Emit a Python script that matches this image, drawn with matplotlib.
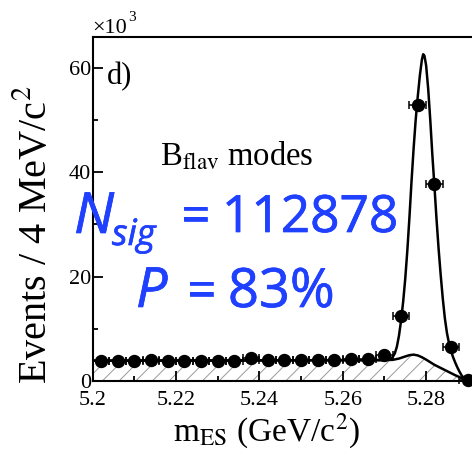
import matplotlib
matplotlib.use("Agg")
import matplotlib.pyplot as plt
import matplotlib.patheffects as pe
from matplotlib.ticker import MultipleLocator

# ---- data (events in units of 10^3) ----
pts_x = [5.202, 5.206, 5.210, 5.214, 5.218, 5.222, 5.226, 5.230, 5.234, 5.238, 5.242,
         5.246, 5.250, 5.254, 5.258, 5.262, 5.266, 5.270, 5.274, 5.278, 5.282, 5.286, 5.290]
pts_y = [3.85, 3.85, 3.85, 4.0, 3.75, 3.9, 3.9, 3.9, 3.9, 4.4, 3.95,
         4.1, 4.1, 4.1, 4.1, 4.25, 4.25, 5.0, 12.5, 52.9, 37.7, 6.6, 0.2]
bin_half = 0.002

tot_x = [5.200, 5.240, 5.268, 5.2700, 5.2710, 5.2715, 5.2720, 5.2725, 5.2730, 5.2735,
         5.2740, 5.2745, 5.2750, 5.2755, 5.2760, 5.2765, 5.2770, 5.2775, 5.2780, 5.2785,
         5.2790, 5.2793, 5.2796, 5.2800, 5.2805, 5.2810, 5.2815, 5.2820, 5.2825, 5.2830,
         5.2835, 5.2840, 5.2845, 5.2850, 5.2855, 5.2860, 5.2865, 5.2870, 5.2875, 5.2880,
         5.2885, 5.2890, 5.2895, 5.2900]
tot_y = [3.9, 3.95, 4.0, 4.0, 4.1, 4.3, 4.6, 5.3, 6.6, 8.7,
         11.6, 15.2, 19.6, 25.0, 31.3, 38.2, 44.5, 50.0, 54.5, 58.5,
         61.6, 62.6, 62.3, 60.5, 56.0, 50.0, 43.3, 37.3, 31.0, 25.3,
         20.3, 15.8, 12.0, 9.2, 7.2, 5.7, 4.5, 3.5, 2.6, 1.8,
         1.1, 0.6, 0.3, 0.1]

bg_x = [5.200, 5.220, 5.240, 5.260, 5.268, 5.2720, 5.2735, 5.2750, 5.2760, 5.2770,
        5.2780, 5.2790, 5.2800, 5.2810, 5.2820, 5.2830, 5.2840, 5.2850, 5.2860, 5.2870,
        5.2880, 5.2890, 5.2900]
bg_y = [3.9, 3.95, 3.95, 4.0, 4.0, 4.05, 4.3, 4.7, 4.95, 5.05,
        4.9, 4.55, 4.1, 3.6, 3.1, 2.7, 2.3, 1.9, 1.5, 1.1,
        0.75, 0.35, 0.05]

x_major = [5.20, 5.22, 5.24, 5.26, 5.28]
x_major_labels = ["5.2", "5.22", "5.24", "5.26", "5.28"]
y_major = [0, 20, 40, 60]
y_major_labels = ["0", "20", "40", "60"]

# ---- style ----
plt.rcParams['font.family'] = ['Liberation Serif', 'DejaVu Serif']
plt.rcParams['mathtext.fontset'] = 'stix'
plt.rcParams['hatch.linewidth'] = 0.7
plt.rcParams['hatch.color'] = '#9a9a9a'

W, H = 472, 451
fig = plt.figure(figsize=(W / 100, H / 100), dpi=100)

def fx(px):
    return px / W

def fy(py):
    return 1 - py / H

ax = fig.add_axes([fx(92.5), fy(381), 1 - fx(92.5), fy(37.3) - fy(381)])
ax.set_xlim(5.2, 5.2 + (W - 92.5) / 4170)
ax.set_ylim(0, (381 - 37.3) / 5.22)

# hatched background
ax.fill_between(bg_x, 0, bg_y, facecolor='none', edgecolor='#9a9a9a', hatch='//',
                linewidth=0, zorder=1)
ax.plot(bg_x, bg_y, color='black', lw=1.8, zorder=2)
ax.plot(tot_x, tot_y, color='black', lw=1.8, zorder=2)

ax.errorbar(pts_x, pts_y, xerr=bin_half, fmt='o', color='black', ms=8.6,
            elinewidth=1.1, capsize=2.9, capthick=1.1, zorder=3, clip_on=False)

for s in ['top', 'left', 'bottom']:
    ax.spines[s].set_linewidth(1.5)
ax.spines['right'].set_visible(False)

ax.set_xticks(x_major)
ax.set_xticklabels(x_major_labels)
ax.set_yticks(y_major)
ax.set_yticklabels(y_major_labels)
ax.xaxis.set_minor_locator(MultipleLocator(0.01))
ax.yaxis.set_minor_locator(MultipleLocator(10))
ax.tick_params(which='both', direction='in', top=False, right=False, width=1.3)
ax.tick_params(which='major', length=7.2)
ax.tick_params(which='minor', length=3.6)
ax.tick_params(axis='x', labelsize=16, pad=7.5)
ax.tick_params(axis='y', labelsize=16, pad=1)

ax.set_xlabel(r'm$_{\mathrm{ES}}$ (GeV/c$^2$)', fontsize=24, va='center', ha='center')
ax.xaxis.set_label_coords(fx(267), fy(431), transform=fig.transFigure)
ax.set_ylabel(r'Events / 4 MeV/c$^2$', fontsize=29, va='center', ha='center')
ax.yaxis.set_label_coords(fx(36), fy(235), transform=fig.transFigure)

# x10^3
fig.text(fx(92), fy(33), '×10', fontsize=16, ha='left', va='baseline')
fig.text(fx(128.5), fy(21), '3', fontsize=11, ha='left', va='baseline')

fig.text(fx(107), fy(84), 'd)', fontsize=22, ha='left', va='baseline')
fig.text(fx(160), fy(165), r'B$_{\mathrm{flav}}$ modes', fontsize=23.5, ha='left', va='baseline')

blue = '#1f40ff'
bfam = ['Open Sans', 'DejaVu Sans']
thick = [pe.withStroke(linewidth=0.5, foreground=blue)]
common = dict(color=blue, family=bfam, weight='normal', ha='left', va='baseline',
              path_effects=thick)
fig.text(fx(74), fy(233), 'N', fontsize=41, style='italic', **common)
fig.text(fx(112), fy(245), 'sig', fontsize=26, style='italic', **common)
fig.text(fx(181), fy(232), '=', fontsize=37, **common)
fig.text(fx(222), fy(232), '112878', fontsize=37, **common)
fig.text(fx(136), fy(307), 'P', fontsize=40, style='italic', **common)
fig.text(fx(187), fy(307), '=', fontsize=37, **common)
fig.text(fx(228), fy(307), '83%', fontsize=39, **common)

fig.savefig('out.png', dpi=100)
